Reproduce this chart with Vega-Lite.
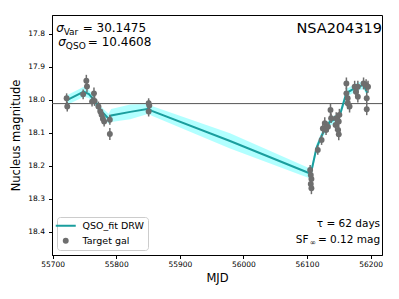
{
  "$schema": "https://vega.github.io/schema/vega-lite/v6.json",
  "width": 330,
  "height": 240,
  "autosize": "none",
  "padding": {"left": 52, "top": 15, "right": 17, "bottom": 44},
  "config": {
    "font": "DejaVu Sans",
    "view": {"stroke": "#000000", "strokeWidth": 1},
    "axis": {"grid": false, "domainColor": "#000", "tickColor": "#000", "tickSize": 3.5, "labelFontSize": 7.5, "labelColor": "#000", "titleColor": "#000", "titleFontWeight": "normal", "titleFontSize": 11.5, "labelOverlap": false, "labelFlush": false},
    "axisX": {"values": [55700, 55800, 55900, 56000, 56100, 56200], "format": "d", "labelPadding": 2, "titlePadding": 4},
    "axisY": {"values": [17.8, 17.9, 18.0, 18.1, 18.2, 18.3, 18.4], "format": ".1f", "labelPadding": 4, "titlePadding": 6}
  },
  "datasets": {
    "obs": [
      {"mjd": 55722, "mag": 17.996, "err": 0.015, "series": "Target gal"},
      {"mjd": 55723, "mag": 18.021, "err": 0.015, "series": "Target gal"},
      {"mjd": 55748, "mag": 17.984, "err": 0.015, "series": "Target gal"},
      {"mjd": 55753, "mag": 17.943, "err": 0.018, "series": "Target gal"},
      {"mjd": 55754, "mag": 17.960, "err": 0.018, "series": "Target gal"},
      {"mjd": 55765, "mag": 17.981, "err": 0.018, "series": "Target gal"},
      {"mjd": 55766, "mag": 18.004, "err": 0.015, "series": "Target gal"},
      {"mjd": 55762, "mag": 18.006, "err": 0.015, "series": "Target gal"},
      {"mjd": 55772, "mag": 18.021, "err": 0.015, "series": "Target gal"},
      {"mjd": 55775, "mag": 18.036, "err": 0.015, "series": "Target gal"},
      {"mjd": 55777, "mag": 18.046, "err": 0.015, "series": "Target gal"},
      {"mjd": 55779, "mag": 18.058, "err": 0.015, "series": "Target gal"},
      {"mjd": 55781, "mag": 18.066, "err": 0.015, "series": "Target gal"},
      {"mjd": 55790, "mag": 18.061, "err": 0.015, "series": "Target gal"},
      {"mjd": 55790, "mag": 18.104, "err": 0.018, "series": "Target gal"},
      {"mjd": 55851, "mag": 18.011, "err": 0.015, "series": "Target gal"},
      {"mjd": 55852, "mag": 18.018, "err": 0.015, "series": "Target gal"},
      {"mjd": 55851, "mag": 18.036, "err": 0.015, "series": "Target gal"},
      {"mjd": 56105, "mag": 18.213, "err": 0.015, "series": "Target gal"},
      {"mjd": 56106, "mag": 18.228, "err": 0.015, "series": "Target gal"},
      {"mjd": 56107, "mag": 18.240, "err": 0.015, "series": "Target gal"},
      {"mjd": 56106, "mag": 18.255, "err": 0.018, "series": "Target gal"},
      {"mjd": 56107, "mag": 18.268, "err": 0.018, "series": "Target gal"},
      {"mjd": 56117, "mag": 18.152, "err": 0.015, "series": "Target gal"},
      {"mjd": 56123, "mag": 18.122, "err": 0.015, "series": "Target gal"},
      {"mjd": 56125, "mag": 18.087, "err": 0.018, "series": "Target gal"},
      {"mjd": 56128, "mag": 18.071, "err": 0.018, "series": "Target gal"},
      {"mjd": 56130, "mag": 18.092, "err": 0.015, "series": "Target gal"},
      {"mjd": 56133, "mag": 18.082, "err": 0.015, "series": "Target gal"},
      {"mjd": 56137, "mag": 18.031, "err": 0.018, "series": "Target gal"},
      {"mjd": 56138, "mag": 18.056, "err": 0.015, "series": "Target gal"},
      {"mjd": 56145, "mag": 18.077, "err": 0.018, "series": "Target gal"},
      {"mjd": 56146, "mag": 18.056, "err": 0.018, "series": "Target gal"},
      {"mjd": 56149, "mag": 18.092, "err": 0.018, "series": "Target gal"},
      {"mjd": 56150, "mag": 18.066, "err": 0.018, "series": "Target gal"},
      {"mjd": 56150, "mag": 18.105, "err": 0.018, "series": "Target gal"},
      {"mjd": 56151, "mag": 18.046, "err": 0.018, "series": "Target gal"},
      {"mjd": 56162, "mag": 17.951, "err": 0.018, "series": "Target gal"},
      {"mjd": 56162, "mag": 17.981, "err": 0.018, "series": "Target gal"},
      {"mjd": 56164, "mag": 17.996, "err": 0.018, "series": "Target gal"},
      {"mjd": 56164, "mag": 18.011, "err": 0.018, "series": "Target gal"},
      {"mjd": 56167, "mag": 18.021, "err": 0.018, "series": "Target gal"},
      {"mjd": 56175, "mag": 17.961, "err": 0.018, "series": "Target gal"},
      {"mjd": 56177, "mag": 17.976, "err": 0.018, "series": "Target gal"},
      {"mjd": 56180, "mag": 17.961, "err": 0.018, "series": "Target gal"},
      {"mjd": 56180, "mag": 17.991, "err": 0.018, "series": "Target gal"},
      {"mjd": 56189, "mag": 17.951, "err": 0.018, "series": "Target gal"},
      {"mjd": 56193, "mag": 17.956, "err": 0.018, "series": "Target gal"},
      {"mjd": 56196, "mag": 17.961, "err": 0.018, "series": "Target gal"},
      {"mjd": 56194, "mag": 17.996, "err": 0.018, "series": "Target gal"},
      {"mjd": 56194, "mag": 18.029, "err": 0.018, "series": "Target gal"}
    ],
    "fit": [
      {"mjd": 55721, "fit": 18.003, "lo": 17.988, "hi": 18.018, "series": "QSO_fit DRW"},
      {"mjd": 55749, "fit": 17.976, "lo": 17.961, "hi": 17.991, "series": "QSO_fit DRW"},
      {"mjd": 55757, "fit": 17.983, "lo": 17.971, "hi": 17.995, "series": "QSO_fit DRW"},
      {"mjd": 55765, "fit": 18.001, "lo": 17.988, "hi": 18.014, "series": "QSO_fit DRW"},
      {"mjd": 55775, "fit": 18.031, "lo": 18.019, "hi": 18.043, "series": "QSO_fit DRW"},
      {"mjd": 55788, "fit": 18.058, "lo": 18.043, "hi": 18.073, "series": "QSO_fit DRW"},
      {"mjd": 55792, "fit": 18.048, "lo": 18.028, "hi": 18.068, "series": "QSO_fit DRW"},
      {"mjd": 55822, "fit": 18.037, "lo": 18.015, "hi": 18.059, "series": "QSO_fit DRW"},
      {"mjd": 55851, "fit": 18.028, "lo": 18.013, "hi": 18.043, "series": "QSO_fit DRW"},
      {"mjd": 55856, "fit": 18.034, "lo": 18.019, "hi": 18.049, "series": "QSO_fit DRW"},
      {"mjd": 55979, "fit": 18.125, "lo": 18.102, "hi": 18.148, "series": "QSO_fit DRW"},
      {"mjd": 56103, "fit": 18.222, "lo": 18.207, "hi": 18.237, "series": "QSO_fit DRW"},
      {"mjd": 56106, "fit": 18.225, "lo": 18.210, "hi": 18.240, "series": "QSO_fit DRW"},
      {"mjd": 56115, "fit": 18.146, "lo": 18.134, "hi": 18.158, "series": "QSO_fit DRW"},
      {"mjd": 56125, "fit": 18.101, "lo": 18.089, "hi": 18.113, "series": "QSO_fit DRW"},
      {"mjd": 56136, "fit": 18.067, "lo": 18.055, "hi": 18.079, "series": "QSO_fit DRW"},
      {"mjd": 56151, "fit": 18.052, "lo": 18.040, "hi": 18.064, "series": "QSO_fit DRW"},
      {"mjd": 56162, "fit": 17.980, "lo": 17.968, "hi": 17.992, "series": "QSO_fit DRW"},
      {"mjd": 56178, "fit": 17.962, "lo": 17.950, "hi": 17.974, "series": "QSO_fit DRW"},
      {"mjd": 56189, "fit": 17.956, "lo": 17.944, "hi": 17.968, "series": "QSO_fit DRW"},
      {"mjd": 56195, "fit": 17.980, "lo": 17.967, "hi": 17.993, "series": "QSO_fit DRW"}
    ],
    "one": [{}]
  },
  "layer": [
    {
      "data": {"name": "fit"},
      "mark": {"type": "area", "color": "#00ffff", "opacity": 0.3},
      "encoding": {
        "x": {"field": "mjd", "type": "quantitative", "title": "MJD", "scale": {"domain": [55699, 56218], "nice": false, "zero": false}, "axis": {"values": [55700, 55800, 55900, 56000, 56100, 56200], "format": "d", "tickCount": 6}},
        "y": {"field": "lo", "type": "quantitative", "title": "Nucleus magnitude", "scale": {"domain": [17.744, 18.47], "reverse": true, "nice": false, "zero": false}},
        "y2": {"field": "hi"}
      }
    },
    {
      "data": {"name": "one"},
      "mark": {"type": "rule", "color": "#555555", "strokeWidth": 1},
      "encoding": {"y": {"datum": 18.012}}
    },
    {
      "data": {"name": "fit"},
      "mark": {"type": "line", "strokeWidth": 2},
      "encoding": {
        "x": {"field": "mjd", "type": "quantitative", "title": "MJD"},
        "y": {"field": "fit", "type": "quantitative", "title": "Nucleus magnitude"},
        "color": {"field": "series", "type": "nominal", "scale": {"domain": ["QSO_fit DRW", "Target gal"], "range": ["#1a9e9e", "#6e6e6e"]},
          "legend": {"title": null, "orient": "bottom-left", "offset": 5, "fillColor": "rgba(255,255,255,0.85)", "strokeColor": "#cccccc", "cornerRadius": 3, "padding": 4, "labelFontSize": 9.5, "labelColor": "#000", "rowPadding": 4, "labelOffset": 12,
            "encode": {"symbols": {"update": {"stroke": {"scale": "color", "field": "value"}, "strokeWidth": {"signal": "datum.value == 'QSO_fit DRW' ? 2 : 0"}, "size": {"signal": "datum.value == 'QSO_fit DRW' ? 400 : 35"}, "shape": {"signal": "datum.value == 'QSO_fit DRW' ? 'stroke' : 'circle'"}, "fill": {"scale": "color", "field": "value"}, "opacity": {"value": 1}}}}}}
      }
    },
    {
      "data": {"name": "obs"},
      "mark": {"type": "errorbar", "color": "#6e6e6e", "thickness": 1.5},
      "encoding": {
        "x": {"field": "mjd", "type": "quantitative", "title": "MJD"},
        "y": {"field": "mag", "type": "quantitative", "title": "Nucleus magnitude"},
        "yError": {"field": "err"}
      }
    },
    {
      "data": {"name": "obs"},
      "mark": {"type": "circle", "size": 35, "opacity": 1},
      "encoding": {
        "x": {"field": "mjd", "type": "quantitative", "title": "MJD"},
        "y": {"field": "mag", "type": "quantitative", "title": "Nucleus magnitude"},
        "color": {"field": "series", "type": "nominal"}
      }
    },
    {
      "data": {"name": "one"},
      "mark": {"type": "text", "text": "σ", "fontSize": 12, "align": "left", "baseline": "alphabetic", "fontStyle": "italic"},
      "encoding": {"x": {"datum": 55705.5}, "y": {"datum": 17.7955}}
    },
    {
      "data": {"name": "one"},
      "mark": {"type": "text", "text": "Var", "fontSize": 9, "align": "left", "baseline": "alphabetic", "dx": 7.5, "dy": 2.5},
      "encoding": {"x": {"datum": 55705.5}, "y": {"datum": 17.7955}}
    },
    {
      "data": {"name": "one"},
      "mark": {"type": "text", "text": "= 30.1475", "fontSize": 12, "align": "left", "baseline": "alphabetic", "dx": 26.5},
      "encoding": {"x": {"datum": 55705.5}, "y": {"datum": 17.7955}}
    },
    {
      "data": {"name": "one"},
      "mark": {"type": "text", "text": "σ", "fontSize": 12, "align": "left", "baseline": "alphabetic", "fontStyle": "italic"},
      "encoding": {"x": {"datum": 55709}, "y": {"datum": 17.838}}
    },
    {
      "data": {"name": "one"},
      "mark": {"type": "text", "text": "QSO", "fontSize": 9, "align": "left", "baseline": "alphabetic", "dx": 7.5, "dy": 2.5},
      "encoding": {"x": {"datum": 55709}, "y": {"datum": 17.838}}
    },
    {
      "data": {"name": "one"},
      "mark": {"type": "text", "text": "= 10.4608", "fontSize": 12, "align": "left", "baseline": "alphabetic", "dx": 29.5},
      "encoding": {"x": {"datum": 55709}, "y": {"datum": 17.838}}
    },
    {
      "data": {"name": "one"},
      "mark": {"type": "text", "text": "NSA204319", "fontSize": 14.5, "align": "right", "baseline": "alphabetic"},
      "encoding": {"x": {"datum": 56218}, "y": {"datum": 17.7985}}
    },
    {
      "data": {"name": "one"},
      "mark": {"type": "text", "text": "τ = 62 days", "fontSize": 10.5, "align": "right", "baseline": "alphabetic"},
      "encoding": {"x": {"datum": 56215}, "y": {"datum": 18.3855}}
    },
    {
      "data": {"name": "one"},
      "mark": {"type": "text", "text": "= 0.12 mag", "fontSize": 10.5, "align": "right", "baseline": "alphabetic"},
      "encoding": {"x": {"datum": 56215}, "y": {"datum": 18.4345}}
    },
    {
      "data": {"name": "one"},
      "mark": {"type": "text", "text": "∞", "fontSize": 7.5, "align": "right", "baseline": "alphabetic", "dx": -64, "dy": 2},
      "encoding": {"x": {"datum": 56215}, "y": {"datum": 18.4345}}
    },
    {
      "data": {"name": "one"},
      "mark": {"type": "text", "text": "SF", "fontSize": 10.5, "align": "right", "baseline": "alphabetic", "dx": -71.5},
      "encoding": {"x": {"datum": 56215}, "y": {"datum": 18.4345}}
    }
  ]
}
